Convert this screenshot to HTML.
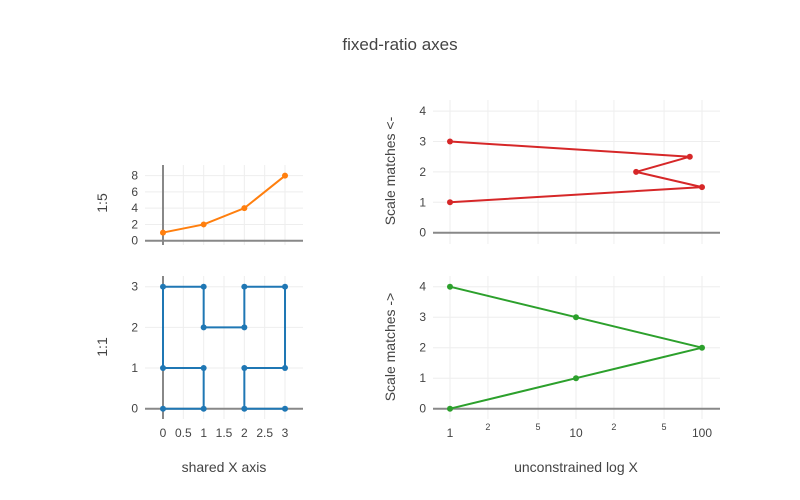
<!DOCTYPE html>
<html><head><meta charset="utf-8"><style>
body{margin:0;background:#fff}
svg{display:block;font-family:"Liberation Sans",sans-serif}
</style></head><body>
<svg id="c" width="800" height="500" xmlns="http://www.w3.org/2000/svg">
<text x="400" y="50" text-anchor="middle" font-size="17" fill="#444">fixed-ratio axes</text>
<text transform="translate(107,203) rotate(-90)" text-anchor="middle" font-size="14" fill="#444">1:5</text>
<text transform="translate(107,347) rotate(-90)" text-anchor="middle" font-size="14" fill="#444">1:1</text>
<text transform="translate(395,171) rotate(-90)" text-anchor="middle" font-size="14" fill="#444">Scale matches &lt;-</text>
<text transform="translate(395,347) rotate(-90)" text-anchor="middle" font-size="14" fill="#444">Scale matches -&gt;</text>
<text x="224" y="472" text-anchor="middle" font-size="14" fill="#444">shared X axis</text>
<text x="576" y="472" text-anchor="middle" font-size="14" fill="#444">unconstrained log X</text>
<g id="g"></g>
</svg>
<script>
const orangeX=[0,1,2,3];
const orangeY=[1,2,4,8];
const blueX=[0,1,1,0,0,1,1,2,2,3,3,2,2,3];
const blueY=[0,0,1,1,3,3,2,2,3,3,1,1,0,0];
const redX=[1,100,30,80,1];
const redY=[1,1.5,2,2.5,3];
const greenX=[1,10,100,10,1];
const greenY=[0,1,2,3,4];
const linXTicks=[0,0.5,1,1.5,2,2.5,3];
const ticksY15=[0,2,4,6,8];
const ticksY11=[0,1,2,3];
const ticksYR=[0,1,2,3,4];
const logMajor=[1,10,100];
const logMinor=[2,5,20,50];

const NS="http://www.w3.org/2000/svg";
const g=document.getElementById('g');
function el(t,a,txt){const e=document.createElementNS(NS,t);for(const k in a)e.setAttribute(k,a[k]);if(txt!==undefined)e.textContent=txt;g.appendChild(e);return e;}
const sx=v=>163+v*40.67;
const lx=v=>450+Math.log10(v)*126;
function panel(x0,x1,y0,y1,X,Y,yt,xt,xf,name){
  xt.forEach(v=>{const l=el('line',{x1:xf(v),x2:xf(v),y1:y0,y2:y1,stroke:'#eee'});
  });
  yt.forEach(v=>{const l=el('line',{x1:x0,x2:x1,y1:Y(v),y2:Y(v),stroke:'#eee'});
  
  const t=el('text',{x:x0-7,y:Y(v)+4,'text-anchor':'end','font-size':12,fill:'#444'},String(v));
  });
  const z=el('line',{x1:x0,x2:x1,y1:Y(0),y2:Y(0),stroke:'#888','stroke-width':2});
  
}
function series(X,Y,xs,ys,color,name){
  const pts=xs.map((v,i)=>X(v)+','+Y(ys[i])).join(' ');
  const p=el('polyline',{points:pts,fill:'none',stroke:color,'stroke-width':2});
  
  xs.forEach((v,i)=>{const c=el('circle',{cx:X(v),cy:Y(ys[i]),r:3,fill:color});
  });
}
// top-left
const yTL=v=>240.7-v*8.13;
panel(145,303,165,245,sx,yTL,ticksY15,linXTicks,sx,'top-left');
let v1=el('line',{x1:sx(0),x2:sx(0),y1:165,y2:245,stroke:'#888','stroke-width':2});

series(sx,yTL,orangeX,orangeY,'#ff7f0e','orange-series');
// bottom-left
const yBL=v=>408.7-v*40.67;
panel(145,303,276,419,sx,yBL,ticksY11,linXTicks,sx,'bottom-left');
let v2=el('line',{x1:sx(0),x2:sx(0),y1:276,y2:419,stroke:'#888','stroke-width':2});

series(sx,yBL,blueX,blueY,'#1f77b4','blue-series');
linXTicks.forEach(v=>{const t=el('text',{x:sx(v),y:437,'text-anchor':'middle','font-size':12,fill:'#444'},String(v));
});
// right panels
const allLog=logMajor.concat(logMinor);
const yTR=v=>232.7-v*30.4;
panel(433,720,100,244,lx,yTR,ticksYR,allLog,lx,'top-right');
series(lx,yTR,redX,redY,'#d62728','red-series');
const yBR=v=>408.7-v*30.5;
panel(433,720,276,419,lx,yBR,ticksYR,allLog,lx,'bottom-right');
series(lx,yBR,greenX,greenY,'#2ca02c','green-series');
logMajor.forEach(v=>{const t=el('text',{x:lx(v),y:437,'text-anchor':'middle','font-size':12,fill:'#444'},String(v));
});
logMinor.forEach(v=>{const t=el('text',{x:lx(v),y:430,'text-anchor':'middle','font-size':9,fill:'#444'},String(v).charAt(0));
});
</script>
</body></html>
